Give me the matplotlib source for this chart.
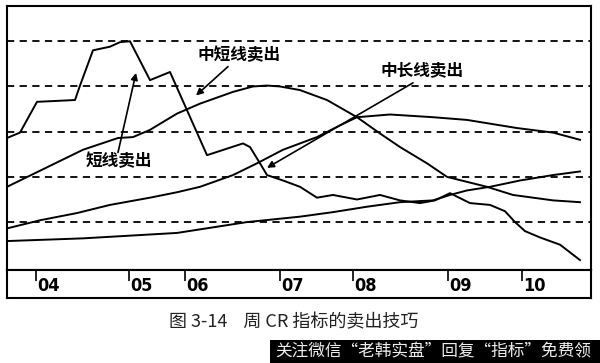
import numpy as np
import matplotlib
matplotlib.use("Agg")
import matplotlib.pyplot as plt
from matplotlib.patches import Rectangle

plt.rcParams['font.family'] = ['Noto Sans CJK SC', 'DejaVu Sans']

# weekly CR lines, x in weeks from the left edge
short_x = [0, 6.5, 15, 34, 36.5, 43, 51.5, 56.5, 61.5, 71.5, 81.5, 100, 118, 121.5, 126.5, 130,
           138, 146.5, 155, 163, 175, 186.5, 196.5, 206.5, 214, 221.5, 231.5, 241.5, 249, 254,
           259, 266.5, 276.5, 286.5]
short_y = [143, 149, 183, 185, 201, 240, 244, 249, 250, 207, 216, 124, 137, 133, 115, 102,
           96, 89, 77, 80, 75, 80, 74, 71, 74, 82, 71, 69, 62, 50, 40, 33, 25, 8]

mid_x = [0, 38, 55.5, 63, 71.5, 85, 96.5, 113, 123, 130, 136.5, 146.5, 160, 175, 186.5,
         196.5, 210, 220, 240, 253, 273, 286.5]
mid_y = [89, 130, 143, 144, 152, 170, 181, 194, 200, 201, 200, 196, 185, 166, 148,
         133, 115, 100, 89, 80, 74, 72]

midlong_x = [0, 16.5, 35, 51.5, 71.5, 85, 96.5, 113, 125, 138, 155, 166.5, 175, 191.5,
             213, 230, 255, 273, 286.5]
midlong_y = [43, 52, 60, 69, 77, 83, 89, 102, 115, 130, 144, 157, 166, 169,
             166, 163, 154, 149, 141]

long_x = [0, 38, 85, 120, 146.5, 163, 180, 196.5, 213, 221.5, 230, 241.5, 256.5, 273, 286.5]
long_y = [29, 32, 38, 50, 56, 61, 67, 72, 74, 80, 85, 89, 96, 102, 106]

grid_levels = [50, 100, 150, 200, 250]
year_ticks = [14.5, 61, 89, 136.5, 173, 220.5, 257.5]
year_labels = ['04', '05', '06', '07', '08', '09', '10']

fig = plt.figure(figsize=(6, 3.63), dpi=100)
ax = fig.add_axes([7/600, 1-270/363, 584/600, 264/363])
band = fig.add_axes([7/600, 1-298/363, 584/600, 28/363])

for lvl in grid_levels:
    ax.axhline(lvl, color='black', lw=1.3, ls=(0, (4, 3)), zorder=1)

for xs, ys in [(short_x, short_y), (mid_x, mid_y), (midlong_x, midlong_y), (long_x, long_y)]:
    ax.plot(xs, ys, color='black', lw=1.4, zorder=2)

ax.set_xlim(0, 292)
ax.set_ylim(-3, 289)
ax.set_xticks([])
ax.set_yticks([])
for s in ax.spines.values():
    s.set_linewidth(1.5)

arrow = dict(arrowstyle='-|>', lw=1.2, color='black', mutation_scale=10, shrinkA=0, shrinkB=0)
txt = dict(fontsize=12, fontweight='bold', ha='center', va='center')
ax.annotate('', xy=(94.5, 190), xytext=(110.5, 222), arrowprops=arrow)
ax.text(116, 235, '中短线卖出', **txt)
ax.annotate('', xy=(64.5, 215), xytext=(55.5, 127), arrowprops=arrow)
ax.text(56, 117, '短线卖出', **txt)
ax.annotate('', xy=(130, 110), xytext=(203, 204), arrowprops=arrow)
ax.text(207.5, 218, '中长线卖出', **txt)

band.set_xlim(0, 292)
band.set_ylim(0, 1)
band.set_xticks([])
band.set_yticks([])
for s in band.spines.values():
    s.set_linewidth(1.5)
band.vlines(year_ticks, 0.6, 1, color='black', lw=1.2)
for xt, lab in zip(year_ticks, year_labels):
    band.text(xt + 0.8, 0.42, lab, fontsize=13, fontweight='bold', ha='left', va='center',
              family='DejaVu Sans', fontstretch='condensed')

fig.text(0.49, 1-322/363, '图 3-14    周 CR 指标的卖出技巧', fontsize=13, ha='center', va='center',
         color='#222222')

fig.patches.append(Rectangle((270/600, 0), 330/600, 23/363, transform=fig.transFigure,
                             facecolor='black', edgecolor='none'))
fig.text(275/600, 11.5/363, '关注微信“老韩实盘”回复“指标”免费领', fontsize=12,
         color='#eeeeee', ha='left', va='center')

fig.savefig('out.png', dpi=100)
